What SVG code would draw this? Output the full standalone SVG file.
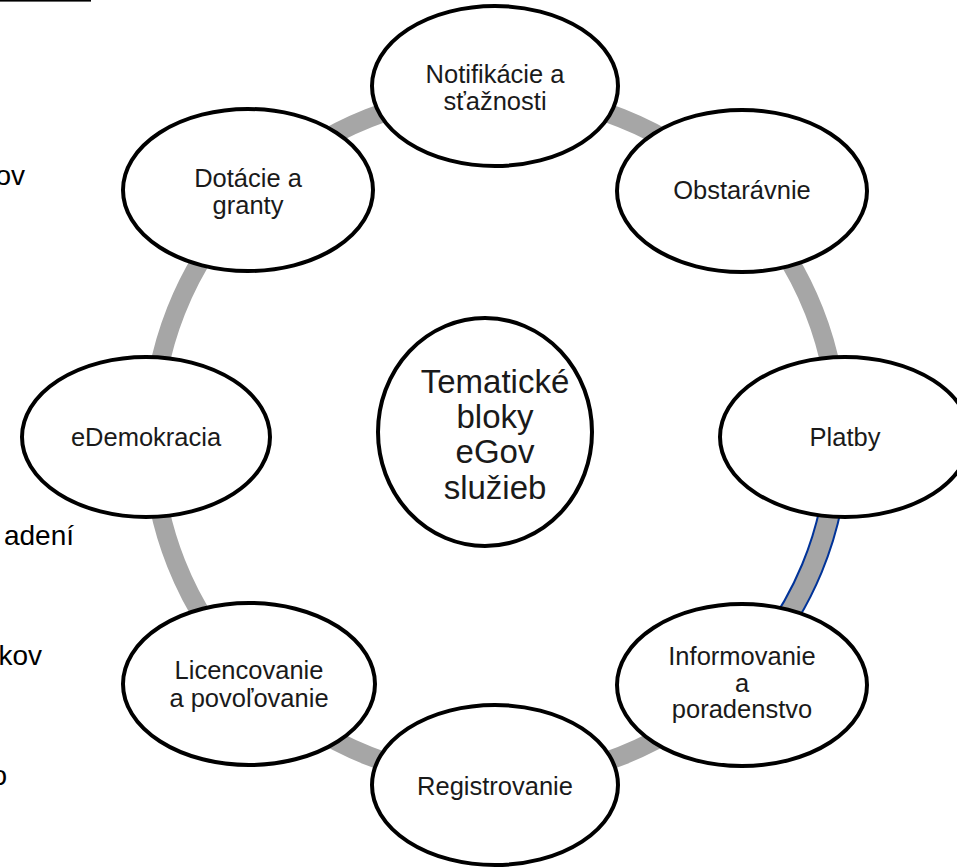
<svg xmlns="http://www.w3.org/2000/svg" width="957" height="868" viewBox="0 0 957 868">
  <style>
    .ring { fill: none; stroke: #a6a6a6; stroke-width: 19; }
    .sel { fill: none; stroke: #003399; stroke-width: 23; }
    .node { fill: #ffffff; stroke: #000000; stroke-width: 4; }
    .lbl { font-family: "Liberation Sans", Arial, sans-serif; font-size: 25.5px; fill: #1a1a1a; text-anchor: middle; }
    .hub { font-family: "Liberation Sans", Arial, sans-serif; font-size: 33px; fill: #1a1a1a; text-anchor: middle; }
    .side { font-family: "Liberation Sans", Arial, sans-serif; font-size: 28px; fill: #000000; text-anchor: end; }
  </style>

  <rect width="957" height="868" fill="#ffffff"/>

  <!-- clipped text fragments at the left edge -->
  <g id="side-text">
    <rect x="0" y="0" width="91" height="1.6" fill="#000000"/>
    <text class="side" x="25" y="185">ov</text>
    <text class="side" x="74" y="545">adení</text>
    <text class="side" x="42" y="665">kov</text>
    <text class="side" x="7" y="785">o</text>
  </g>

  <!-- ring connecting the blocks -->
  <g id="connectors">
    <circle class="ring" cx="495" cy="437" r="343"/>
    <path class="sel" d="M 836.7 466.9 A 343 343 0 0 1 757.8 657.5"/>
    <path class="ring" d="M 836.7 466.9 A 343 343 0 0 1 757.8 657.5"/>
  </g>

  <g id="node-notifikacie">
    <ellipse class="node" cx="495" cy="86" rx="123" ry="80"/>
    <text class="lbl" x="495" y="83">Notifikácie a</text>
    <text class="lbl" x="495" y="110">sťažnosti</text>
  </g>

  <g id="node-obstaravnie">
    <ellipse class="node" cx="742" cy="191" rx="125" ry="81"/>
    <text class="lbl" x="742" y="199">Obstarávnie</text>
  </g>

  <g id="node-platby">
    <ellipse class="node" cx="845" cy="437" rx="125" ry="80"/>
    <text class="lbl" x="845" y="446">Platby</text>
  </g>

  <g id="node-informovanie">
    <ellipse class="node" cx="742" cy="685" rx="125" ry="81"/>
    <text class="lbl" x="742" y="665">Informovanie</text>
    <text class="lbl" x="742" y="692">a</text>
    <text class="lbl" x="742" y="718">poradenstvo</text>
  </g>

  <g id="node-registrovanie">
    <ellipse class="node" cx="495" cy="785" rx="123" ry="80"/>
    <text class="lbl" x="495" y="795">Registrovanie</text>
  </g>

  <g id="node-licencovanie">
    <ellipse class="node" cx="249" cy="684" rx="126" ry="81"/>
    <text class="lbl" x="249" y="679">Licencovanie</text>
    <text class="lbl" x="249" y="707">a povoľovanie</text>
  </g>

  <g id="node-edemokracia">
    <ellipse class="node" cx="146" cy="437" rx="124" ry="80"/>
    <text class="lbl" x="146" y="446">eDemokracia</text>
  </g>

  <g id="node-dotacie">
    <ellipse class="node" cx="248" cy="190" rx="125" ry="81"/>
    <text class="lbl" x="248" y="187">Dotácie a</text>
    <text class="lbl" x="248" y="214">granty</text>
  </g>

  <g id="node-center">
    <ellipse class="node" cx="485" cy="432" rx="107" ry="114"/>
    <text class="hub" x="495" y="393">Tematické</text>
    <text class="hub" x="495" y="428">bloky</text>
    <text class="hub" x="495" y="463">eGov</text>
    <text class="hub" x="495" y="499">služieb</text>
  </g>
</svg>
